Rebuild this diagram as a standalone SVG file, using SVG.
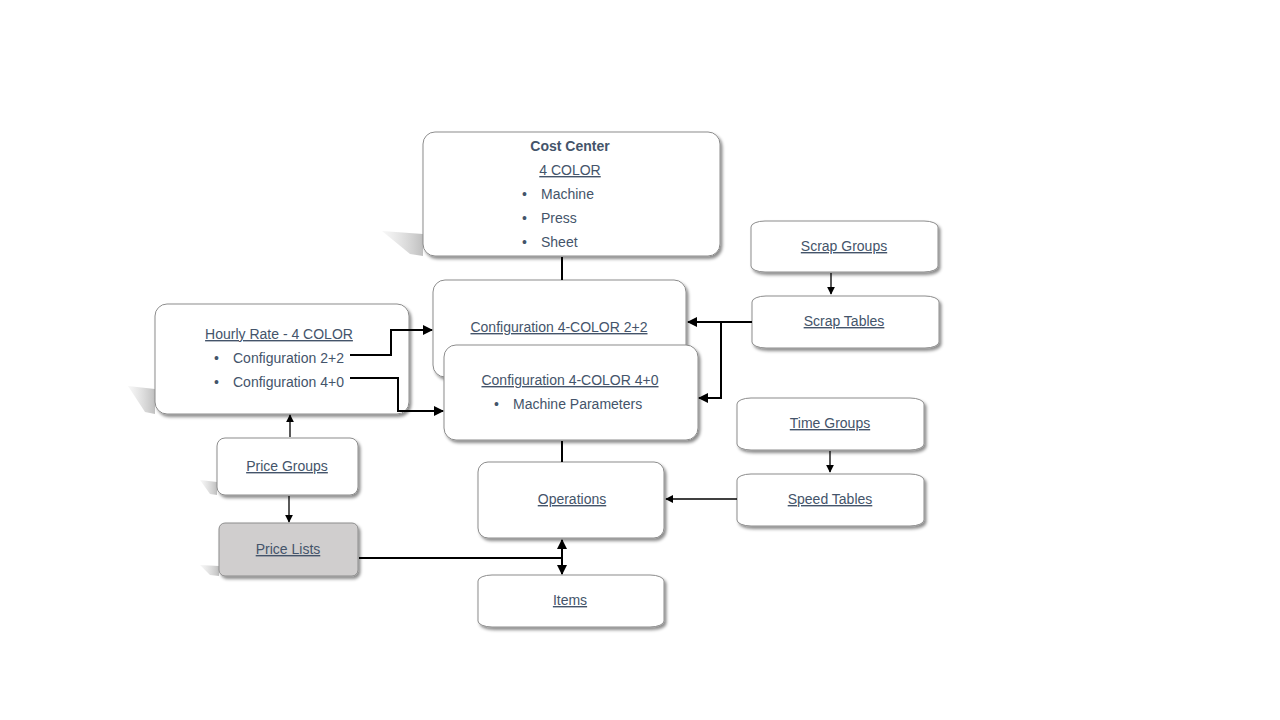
<svg xmlns="http://www.w3.org/2000/svg" width="1280" height="720" viewBox="0 0 1280 720">
<style>
.box{fill:#ffffff;stroke:#8c8c8c;stroke-width:1;filter:url(#ds)}
.gray{fill:#d0cece}
.t{font-family:"Liberation Sans",Arial,sans-serif;font-size:14px;fill:#44546a}
.c{text-anchor:middle}
.u{text-decoration:underline}
.b{font-weight:bold}
.thick{fill:none;stroke:#000;stroke-width:2}
.thin{fill:none;stroke:#000;stroke-width:1.3}
.ps{fill:url(#pg)}
</style>
<defs>
<filter id="ds" x="-10%" y="-10%" width="130%" height="140%">
<feDropShadow dx="2" dy="2.5" stdDeviation="1.5" flood-color="#000" flood-opacity="0.45"/>
</filter>
<linearGradient id="pg" x1="0" y1="0" x2="1" y2="0">
<stop offset="0" stop-color="#d9d9d9" stop-opacity="0.2"/>
<stop offset="1" stop-color="#bfbfbf" stop-opacity="1"/>
</linearGradient>
<marker id="ah" viewBox="0 0 10 10" refX="9" refY="5" markerWidth="5" markerHeight="5" orient="auto-start-reverse" markerUnits="strokeWidth">
<path d="M0,0 L10,5 L0,10 z" fill="#000"/>
</marker>
<marker id="ahs" viewBox="0 0 10 10" refX="9" refY="5" markerWidth="6" markerHeight="6" orient="auto-start-reverse" markerUnits="strokeWidth">
<path d="M0,0 L10,5 L0,10 z" fill="#000"/>
</marker>
</defs>
<rect width="1280" height="720" fill="#ffffff"/>

<g id="perspective-shadows">
<polygon class="ps" points="382,231 423,234 423,256 410,254"/>
<polygon class="ps" points="128,386 155,389 155,414 145,412"/>
<polygon class="ps" points="200,480 217,482 217,495 210,494"/>
<polygon class="ps" points="200,565 219,566 219,576 210,575"/>
</g>

<g id="cost-center">
<rect class="box" x="423" y="132" width="297" height="124" rx="12"/>
<text class="t c b" x="570" y="151">Cost Center</text>
<text class="t c u" x="570" y="175">4 COLOR</text>
<text class="t" x="522" y="199">•</text><text class="t" x="541" y="199">Machine</text>
<text class="t" x="522" y="223">•</text><text class="t" x="541" y="223">Press</text>
<text class="t" x="522" y="247">•</text><text class="t" x="541" y="247">Sheet</text>
</g>

<g id="config-22">
<rect class="box" x="433" y="280" width="253" height="97" rx="12"/>
<text class="t c u" x="559" y="332">Configuration 4-COLOR 2+2</text>
</g>

<g id="config-40">
<rect class="box" x="444" y="345" width="254" height="95" rx="12"/>
<text class="t c u" x="570" y="385">Configuration 4-COLOR 4+0</text>
<text class="t" x="494" y="409">•</text><text class="t" x="513" y="409">Machine Parameters</text>
</g>

<g id="hourly-rate">
<rect class="box" x="155" y="304" width="254" height="110" rx="12"/>
<text class="t c u" x="279" y="339">Hourly Rate - 4 COLOR</text>
<text class="t" x="214" y="363">•</text><text class="t" x="233" y="363">Configuration 2+2</text>
<text class="t" x="214" y="387">•</text><text class="t" x="233" y="387">Configuration 4+0</text>
</g>

<g id="price-groups">
<rect class="box" x="217" y="438" width="141" height="57" rx="8"/>
<text class="t c u" x="287" y="471">Price Groups</text>
</g>

<g id="price-lists">
<rect class="box gray" x="219" y="523" width="139" height="53" rx="6"/>
<text class="t c u" x="288" y="554">Price Lists</text>
</g>

<g id="operations">
<rect class="box" x="478" y="462" width="186" height="76" rx="10"/>
<text class="t c u" x="572" y="504">Operations</text>
</g>

<g id="items">
<rect class="box" x="478" y="575" width="186" height="52" rx="14" ry="6"/>
<text class="t c u" x="570" y="605">Items</text>
</g>

<g id="scrap-groups">
<rect class="box" x="751" y="221" width="187" height="51" rx="14" ry="6"/>
<text class="t c u" x="844" y="251">Scrap Groups</text>
</g>

<g id="scrap-tables">
<rect class="box" x="752" y="296" width="187" height="52" rx="14" ry="6"/>
<text class="t c u" x="844" y="326">Scrap Tables</text>
</g>

<g id="time-groups">
<rect class="box" x="737" y="398" width="187" height="52" rx="14" ry="6"/>
<text class="t c u" x="830" y="428">Time Groups</text>
</g>

<g id="speed-tables">
<rect class="box" x="737" y="474" width="187" height="52" rx="14" ry="6"/>
<text class="t c u" x="830" y="504">Speed Tables</text>
</g>

<g id="connectors">
<line class="thick" x1="562" y1="257" x2="562" y2="280"/>
<line class="thick" x1="562" y1="441" x2="562" y2="462"/>
<polyline class="thick" points="350,355 391,355 391,330 432,330" marker-end="url(#ah)"/>
<polyline class="thick" points="350,378 398,378 398,411 443,411" marker-end="url(#ah)"/>
<line class="thin" x1="290" y1="437" x2="290" y2="415" marker-end="url(#ahs)"/>
<line class="thin" x1="289" y1="496" x2="289" y2="522" marker-end="url(#ahs)"/>
<polyline class="thick" points="359,558 562,558"/>
<line class="thick" x1="562" y1="540" x2="562" y2="574" marker-start="url(#ah)" marker-end="url(#ah)"/>
<line class="thin" x1="831" y1="273" x2="831" y2="294" marker-end="url(#ahs)"/>
<line class="thick" x1="752" y1="322" x2="688" y2="322" marker-end="url(#ah)"/>
<polyline class="thick" points="721,322 721,398 699,398" marker-end="url(#ah)"/>
<line class="thin" x1="830" y1="451" x2="830" y2="472" marker-end="url(#ahs)"/>
<line class="thin" x1="737" y1="499" x2="666" y2="499" marker-end="url(#ahs)"/>
</g>
</svg>
